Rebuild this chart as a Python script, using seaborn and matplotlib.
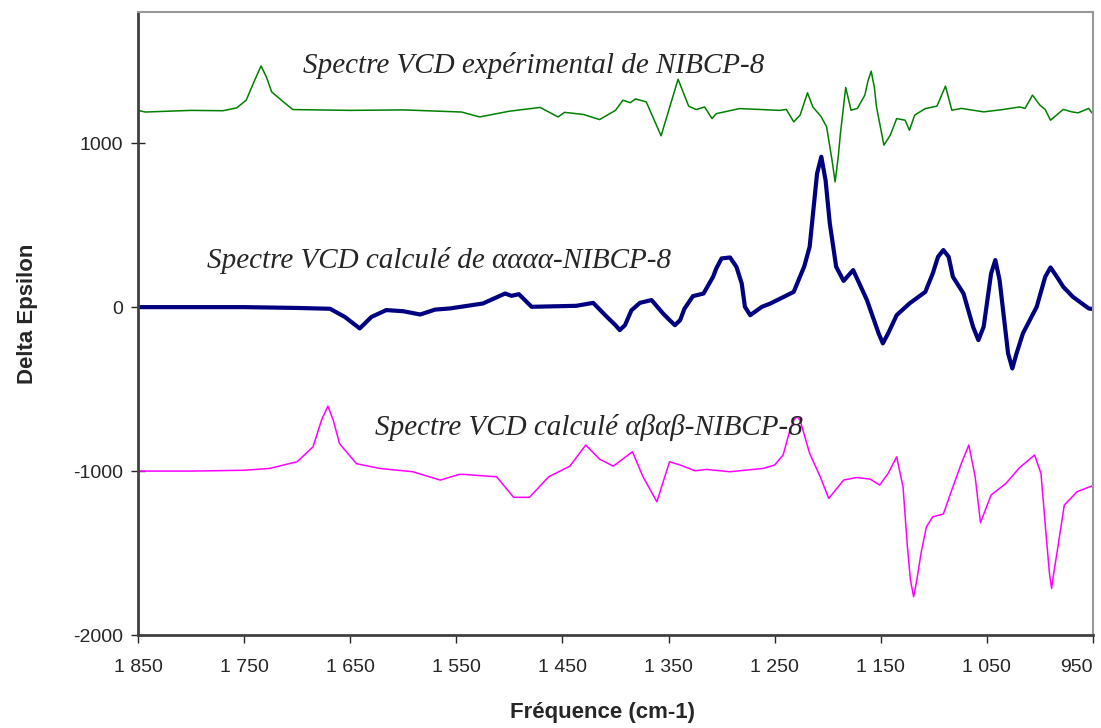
import pandas as pd
import seaborn as sns
import matplotlib.pyplot as plt

# frequencies (cm-1) and Delta Epsilon
exp_freq = [1850, 1843, 1800, 1770, 1757, 1748, 1740, 1734, 1729, 1724,
            1713, 1704, 1650, 1600, 1545, 1528, 1500, 1471, 1454, 1448,
            1430, 1415, 1400, 1393, 1386, 1381, 1371, 1357, 1341, 1331,
            1324, 1316, 1309, 1305, 1283, 1245, 1239, 1232, 1226, 1219,
            1214, 1206, 1201, 1196, 1193, 1190, 1188, 1183, 1178, 1172,
            1165, 1162, 1159, 1156, 1154, 1147, 1141, 1135, 1127, 1123,
            1118, 1108, 1097, 1094, 1089, 1083, 1074, 1053, 1035, 1019,
            1014, 1007, 1000, 995, 990, 978, 970, 964, 954, 951]
exp_eps = [1200, 1190, 1200, 1198, 1215, 1262, 1384, 1471, 1404, 1313,
           1252, 1205, 1200, 1203, 1190, 1160, 1195, 1218, 1160, 1188,
           1175, 1144, 1200, 1262, 1247, 1270, 1252, 1045, 1390, 1226,
           1205, 1221, 1150, 1180, 1211, 1200, 1206, 1130, 1171, 1307,
           1221, 1160, 1099, 900, 764, 920, 1059, 1340, 1201, 1212,
           1293, 1380, 1439, 1340, 1221, 988, 1049, 1150, 1140, 1079,
           1171, 1211, 1226, 1272, 1348, 1201, 1212, 1191, 1205, 1221,
           1212, 1293, 1232, 1205, 1140, 1206, 1191, 1185, 1212, 1185]

aaaa_freq = [1850, 1750, 1700, 1669, 1655, 1641, 1630, 1616, 1600, 1584,
             1570, 1556, 1525, 1504, 1498, 1491, 1479, 1437, 1421, 1408,
             1400, 1396, 1391, 1385, 1377, 1366, 1355, 1349, 1344, 1339,
             1335, 1327, 1317, 1308, 1305, 1300, 1292, 1286, 1281, 1278,
             1273, 1262, 1254, 1232, 1222, 1217, 1210, 1206, 1202, 1198,
             1192, 1185, 1176, 1163, 1152, 1148, 1143, 1135, 1123, 1108,
             1101, 1096, 1091, 1086, 1082, 1072, 1063, 1058, 1053, 1046,
             1042, 1038, 1030, 1026, 1022, 1016, 1003, 995, 990, 984,
             978, 969, 954, 950]
aaaa_eps = [0, 0, -5, -10, -60, -130, -60, -18, -25, -45,
            -15, -8, 22, 83, 69, 79, 2, 8, 26, -60,
            -110, -140, -110, -20, 26, 43, -40, -79, -110, -79,
            -10, 67, 83, 185, 236, 297, 303, 246, 144, 2,
            -49, 2, 22, 93, 250, 368, 815, 917, 774, 510,
            246, 160, 226, 43, -160, -221, -160, -49, 22, 93,
            205, 307, 348, 307, 185, 83, -120, -201, -120, 205,
            287, 165, -282, -374, -282, -160, 2, 185, 242, 185,
            124, 63, -8, -12]

abab_freq = [1850, 1800, 1750, 1726, 1700, 1685, 1677, 1671, 1666, 1660,
             1644, 1622, 1591, 1565, 1547, 1543, 1512, 1496, 1481, 1463,
             1443, 1428, 1415, 1402, 1384, 1374, 1361, 1349, 1339, 1325,
             1314, 1292, 1261, 1250, 1242, 1236, 1232, 1229, 1226, 1222,
             1217, 1207, 1199, 1185, 1173, 1160, 1151, 1143, 1135, 1129,
             1125, 1122, 1119, 1116, 1112, 1107, 1101, 1091, 1082, 1074,
             1067, 1061, 1056, 1046, 1032, 1019, 1005, 999, 994, 991,
             989, 987, 984, 977, 965, 951]
abab_eps = [-1000, -1000, -995, -984, -943, -852, -689, -604, -689, -833,
            -955, -984, -1004, -1055, -1020, -1020, -1035, -1160, -1160, -1035,
            -970, -841, -927, -970, -882, -1035, -1187, -943, -963, -998,
            -990, -1004, -984, -963, -902, -760, -690, -668, -690, -780,
            -892, -1035, -1167, -1055, -1039, -1049, -1085, -1014, -913, -1096,
            -1450, -1665, -1766, -1665, -1500, -1340, -1279, -1262, -1096, -953,
            -841, -1035, -1315, -1146, -1075, -978, -902, -1014, -1401, -1624,
            -1716, -1624, -1502, -1207, -1126, -1091]

x_ticks = [1850, 1750, 1650, 1550, 1450, 1350, 1250, 1150, 1050, 950]
y_ticks = [-2000, -1000, 0, 1000]

sns.set_style('white')
plt.rcParams['font.family'] = ['Liberation Sans', 'DejaVu Sans']
plt.rcParams['axes.unicode_minus'] = False
plt.rcParams['lines.solid_joinstyle'] = 'round'
plt.rcParams['lines.solid_capstyle'] = 'round'

fig, ax = plt.subplots(figsize=(11.01, 7.28), dpi=100)
fig.subplots_adjust(left=0.1253, right=0.9927, top=0.9835, bottom=0.1277)

exp_df = pd.DataFrame({'freq': exp_freq, 'eps': exp_eps})
aaaa_df = pd.DataFrame({'freq': aaaa_freq, 'eps': aaaa_eps})
abab_df = pd.DataFrame({'freq': abab_freq, 'eps': abab_eps})

sns.lineplot(data=exp_df, x='freq', y='eps', color='#008000',
             linewidth=1.1, ax=ax)
sns.lineplot(data=aaaa_df, x='freq', y='eps', color='#000080',
             linewidth=3.0, ax=ax)
sns.lineplot(data=abab_df, x='freq', y='eps', color='#FF00FF',
             linewidth=1.1, ax=ax)

serif = ['Liberation Serif', 'DejaVu Serif']
ax.text(1694, 1427, 'Spectre VCD expérimental de NIBCP-8', fontsize=21,
        style='italic', family=serif, ha='left', va='baseline')
ax.text(1785, 238, 'Spectre VCD calculé de αααα-NIBCP-8', fontsize=21,
        style='italic', family=serif, ha='left', va='baseline')
ax.text(1627, -780, 'Spectre VCD calculé αβαβ-NIBCP-8', fontsize=21,
        style='italic', family=serif, ha='left', va='baseline')

ax.set_xlim(1850, 950)
ax.set_ylim(-2000, 1800)
ax.set_xticks(x_ticks)
ax.set_xticklabels(['{:,}'.format(t).replace(',', ' ') for t in x_ticks])
ax.get_xticklabels()[-1].set_ha('right')
ax.set_yticks(y_ticks)
ax.tick_params(axis='x', direction='out', length=6, width=1,
               labelsize=14, pad=11, bottom=True)
ax.tick_params(axis='y', direction='inout', length=10, width=1,
               labelsize=14, pad=6, left=True)

ax.set_xlabel('Fréquence (cm-1)', fontsize=16, fontweight='bold')
ax.set_ylabel('Delta Epsilon', fontsize=16, fontweight='bold')
ax.xaxis.set_label_coords(0.486, -0.108)
ax.yaxis.set_label_coords(-0.105, 0.515)

for side in ['left', 'bottom']:
    ax.spines[side].set_color('#404040')
    ax.spines[side].set_linewidth(2)
for side in ['top', 'right']:
    ax.spines[side].set_color('#999999')
    ax.spines[side].set_linewidth(1.5)

plt.savefig('out.png', dpi=100)
